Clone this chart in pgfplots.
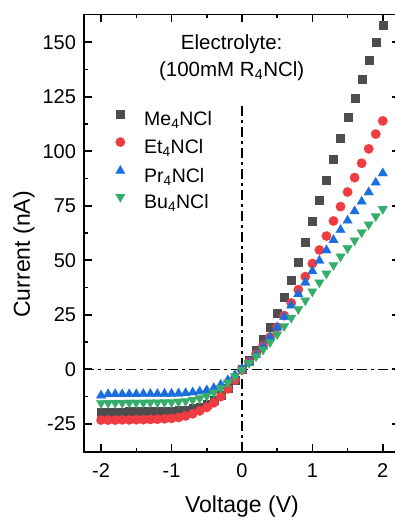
\documentclass[border=0pt]{standalone}
\usepackage{pgfplots}
\pgfplotsset{compat=1.18}
\usepackage{pgfplotstable}
\usepackage{fontspec}
\setmainfont{Liberation Sans}
\definecolor{cMe}{HTML}{4D4D4D}
\definecolor{cEt}{HTML}{F03C40}
\definecolor{cPr}{HTML}{1A6FDF}
\definecolor{cBu}{HTML}{37AD6B}

\pgfplotstableread{
V Me Et Pr Bu
-2.0 -19.4 -23.3 -12.0 -15.5
-1.9 -19.4 -23.3 -11.4 -15.4
-1.8 -19.4 -23.3 -11.4 -15.4
-1.7 -19.4 -23.2 -11.4 -15.4
-1.6 -19.3 -23.2 -11.4 -15.3
-1.5 -19.3 -23.1 -11.4 -15.3
-1.4 -19.3 -23.1 -11.3 -15.3
-1.3 -19.2 -23.0 -11.3 -15.2
-1.2 -19.2 -22.9 -11.3 -15.2
-1.1 -19.1 -22.7 -11.2 -15.1
-1.0 -19.0 -22.5 -11.2 -15.1
-0.9 -18.8 -22.1 -11.1 -14.9
-0.8 -18.5 -21.4 -10.9 -14.6
-0.7 -18.0 -20.4 -10.6 -14.1
-0.6 -17.1 -19.1 -10.2 -13.3
-0.5 -15.9 -17.5 -9.6 -12.2
-0.4 -14.2 -15.4 -8.6 -10.6
-0.3 -11.8 -12.5 -7.1 -8.6
-0.2 -8.8 -9.0 -5.0 -6.1
-0.1 -4.9 -4.9 -2.6 -3.2
0.0 0.3 -0.3 0.2 -0.2
0.1 4.3 3.4 3.0 2.9
0.2 8.9 7.0 6.6 5.9
0.3 13.8 10.8 10.4 9.0
0.4 19.3 14.8 14.7 12.4
0.5 26.0 19.3 19.2 16.0
0.6 33.3 24.6 24.0 19.8
0.7 40.8 30.4 29.2 23.6
0.8 49.4 36.5 34.5 27.6
0.9 58.5 42.5 39.8 31.6
1.0 68.0 48.5 45.0 35.7
1.1 77.5 54.7 49.8 39.8
1.2 87.0 61.1 54.6 43.9
1.3 96.6 68.0 59.3 47.8
1.4 106.0 74.6 63.9 51.7
1.5 115.5 81.3 68.2 55.5
1.6 124.6 87.9 72.5 59.1
1.7 133.2 94.5 76.9 62.8
1.8 141.7 101.1 81.2 66.4
1.9 150.0 107.9 85.6 70.2
2.0 158.0 113.9 89.9 73.5
}\datatable

\begin{document}
\begin{tikzpicture}
\begin{axis}[
  at={(0,0)}, anchor=south west,
  scale only axis, width=315.5pt, height=437.4pt,
  xmin=-2.24, xmax=2.24, ymin=-37.8, ymax=162.8,
  xtick={-2,-1,0,1,2}, minor x tick num=1,
  ytick={-25,0,25,50,75,100,125,150}, minor y tick num=1,
  xtick pos=both, ytick pos=both,
  xticklabel pos=lower, yticklabel pos=left,
  tick align=inside,
  major tick length=8pt, minor tick length=4pt,
  every tick/.style={black, line width=1.6pt},
  axis line style={line width=1.6pt},
  /pgf/number format/assume math mode=true,
  xticklabel style={font=\fontsize{20}{24}\selectfont, inner sep=0pt, anchor=north, yshift=-12pt},
  yticklabel style={font=\fontsize{20}{24}\selectfont, inner sep=0pt, anchor=east, xshift=-8pt},
  xlabel={Voltage (V)}, ylabel={Current (nA)},
  label style={font=\fontsize{23}{26}\selectfont},
  xlabel style={at={(axis description cs:0.5,0)}, anchor=base, yshift=-60.6pt, inner sep=0pt},
  ylabel style={at={(axis description cs:-0.1718,0.451)}, anchor=base, inner sep=0pt},
  legend style={draw=none, fill=none, inner sep=0pt, outer sep=0pt,
    at={(axis description cs:0.0992,0.781)}, anchor=north west,
    font=\fontsize{19.5}{22}\selectfont, row sep=8.8pt, column sep=19pt,
    nodes={inner sep=0pt, text height=13pt, text depth=3pt}},
  legend cell align=left,
  legend image code/.code={\draw[#1] plot coordinates {(4.5pt,6.4pt)};},
]
\addplot[forget plot, line width=1.5pt, dash pattern=on 10pt off 4pt on 3pt off 4pt] coordinates {(-2.24,0) (2.24,0)};
\addplot[forget plot, line width=1.5pt, dash pattern=on 10pt off 4pt on 3pt off 4pt] coordinates {(0,-37.8) (0,122)};
\addplot[only marks, color=cMe, mark=square*, mark size=4pt, mark options={line width=0.1pt, draw=cMe, fill=cMe}] table[x=V, y=Me] {\datatable};
\addlegendentry{Me\textsubscript{4}NCl}
\addplot[only marks, color=cEt, mark=*, mark size=4.8pt, mark options={line width=0.1pt, draw=cEt, fill=cEt}] table[x=V, y=Et] {\datatable};
\addlegendentry{Et\textsubscript{4}NCl}
\addplot[only marks, color=cPr, mark=triangle*, mark size=5.6pt, mark options={line width=0.1pt, draw=cPr, fill=cPr}] table[x=V, y=Pr] {\datatable};
\addlegendentry{Pr\textsubscript{4}NCl}
\addplot[only marks, color=cBu, mark=triangle*, mark size=5.6pt, mark options={line width=0.1pt, draw=cBu, fill=cBu, rotate=180}] table[x=V, y=Bu] {\datatable};
\addlegendentry{Bu\textsubscript{4}NCl}
\node[anchor=base, inner sep=0pt, font=\fontsize{20.5}{24}\selectfont] at (axis cs:-0.146,146.5) {Electrolyte:};
\node[anchor=base, inner sep=0pt, font=\fontsize{20.5}{24}\selectfont] at (axis cs:-0.146,134.4) {(100mM R\textsubscript{4}NCl)};
\end{axis}
\pgfresetboundingbox
\useasboundingbox (-84.2pt,-68.3pt) rectangle (310.8pt,451.7pt);
\end{tikzpicture}
\end{document}
